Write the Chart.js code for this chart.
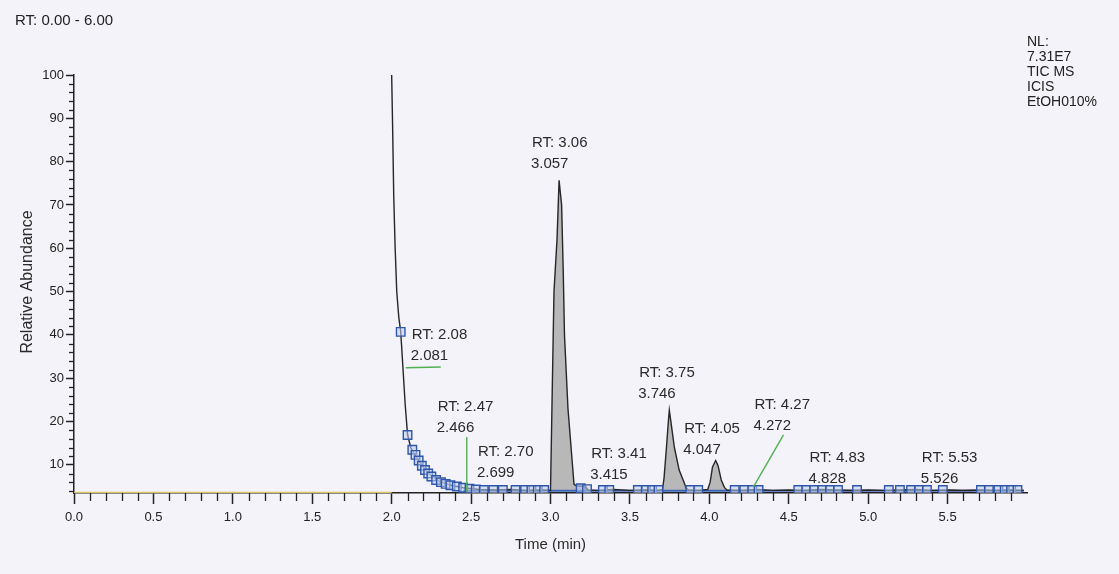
<!DOCTYPE html>
<html><head><meta charset="utf-8">
<script src="https://cdn.jsdelivr.net/npm/chart.js@4.4.1/dist/chart.umd.min.js"></script>
<style>
html,body{margin:0;padding:0;background:#f3f3f9;}
#wrap{position:relative;width:1119px;height:574px;overflow:hidden;background:#f3f3f9;}
canvas{position:absolute;left:0;top:0;}
.t{position:absolute;font-family:"Liberation Sans",Arial,sans-serif;color:#222;white-space:nowrap;}
</style></head><body>
<div id="wrap">
<canvas id="c" width="1119" height="574"></canvas>
<div class="t" style="left:15px;top:11px;font-size:15px;">RT: 0.00 - 6.00</div>
<div class="t" style="left:1027px;top:34px;font-size:14px;line-height:15px;">NL:<br>7.31E7<br>TIC MS<br>ICIS<br>EtOH010%</div>
</div>
<script>
// ---- data ----
const traceTime = [2.000,2.006,2.013,2.022,2.032,2.045,2.057,2.070,2.085,2.100,2.120,2.150,2.180,2.210,2.250,2.300,2.370,2.450,2.550,2.650,2.750,2.850,2.950,3.000,3.009,3.022,3.041,3.054,3.070,3.080,3.088,3.110,3.136,3.148,3.160,3.220,3.235,3.300,3.400,3.500,3.600,3.680,3.705,3.715,3.730,3.742,3.748,3.758,3.780,3.810,3.835,3.855,3.870,3.930,3.990,4.005,4.020,4.040,4.055,4.075,4.095,4.110,4.200,4.300,4.400,4.500,4.600,4.700,4.800,4.900,5.000,5.100,5.200,5.300,5.400,5.500,5.600,5.700,5.800,5.900,5.980];
const traceAbund = [100,88,72,60,50,44,40.7,33,24,17,14,12,10.5,9,7.5,6.2,5.3,4.7,4.3,4.2,4.3,4.1,4.2,4.1,23,50,62,75.7,70,55,40,23,11,5.5,5.2,5.0,4.2,4.1,4.3,4.1,4.2,4.1,4.3,7,14,20,22.6,20,14,8.8,6.5,4.6,4.2,4.1,4.3,6,9.5,11,9.8,6.5,4.8,4.2,4.1,4.3,4.1,4.2,4.1,4.3,4.2,4.1,4.2,4.1,4.2,4.3,4.1,4.2,4.1,4.2,4.1,4.2,4.1];
const peakRanges = [[2.99,3.24],[3.70,3.88],[3.98,4.12]];
const markerTime = [2.057,2.100,2.130,2.150,2.170,2.190,2.210,2.230,2.250,2.280,2.310,2.340,2.370,2.410,2.450,2.490,2.530,2.580,2.640,2.700,2.780,2.840,2.880,2.920,2.960,3.190,3.230,3.330,3.370,3.550,3.600,3.640,3.680,3.880,3.930,4.160,4.220,4.270,4.310,4.560,4.610,4.660,4.710,4.760,4.810,4.930,5.130,5.200,5.270,5.320,5.370,5.470,5.710,5.760,5.820,5.860,5.900,5.940];
const markerAbund = [40.7,16.9,13.5,12.3,11,9.8,8.8,8,7.3,6.5,6,5.6,5.3,5,4.7,4.5,4.3,4.2,4.2,4.2,4.2,4.2,4.2,4.2,4.2,4.6,4.4,4.2,4.2,4.2,4.2,4.2,4.2,4.2,4.2,4.2,4.2,4.2,4.2,4.2,4.2,4.2,4.2,4.2,4.2,4.2,4.2,4.2,4.2,4.2,4.2,4.2,4.2,4.2,4.2,4.2,4.2,4.2];
const baseTime = [2.45,5.98];
const baseAbund = [4.0,4.0];
const redTime = [4.82,4.97,4.975,5.48,5.66];
const redAbund = [4.0,4.0,null,4.0,4.0];
const delayTime = [0,2.0];
const delayAbund = [3.6,3.6];
const labelRT = ['RT: 3.06','RT: 2.08','RT: 2.47','RT: 2.70','RT: 3.41','RT: 3.75','RT: 4.05','RT: 4.27','RT: 4.83','RT: 5.53'];
const labelApex = ['3.057','2.081','2.466','2.699','3.415','3.746','4.047','4.272','4.828','5.526'];
const labelTime = [2.883,2.126,2.290,2.543,3.256,3.558,3.842,4.284,4.631,5.338];
const labelAbund = [84.3,40.0,23.4,13.0,12.5,31.2,18.3,23.8,11.6,11.6];
const leaderT1 = [2.088,2.473,4.467];
const leaderV1 = [32.4,16.4,16.9];
const leaderT2 = [2.309,2.473,4.278];
const leaderV2 = [32.6,3.8,4.9];
const xTickValues = [0,0.5,1.0,1.5,2.0,2.5,3.0,3.5,4.0,4.5,5.0,5.5];
const yTickValues = [10,20,30,40,50,60,70,80,90,100];

// ---- build ----
const pts = (t,v)=>t.map((x,i)=>({x:x,y:v[i]}));
const trace = pts(traceTime,traceAbund);
const FONT = '"Liberation Sans", Arial, sans-serif';
const datasets = [
  {data:trace,borderColor:'#262626',borderWidth:1.4,pointRadius:0,fill:false,order:1,tension:0},
  {data:pts(markerTime,markerAbund),showLine:false,pointStyle:'rect',pointRadius:6,pointBorderColor:'#2f56a8',pointBackgroundColor:'rgba(190,205,238,0.55)',pointBorderWidth:1.4,order:0},
  {data:pts(baseTime,baseAbund),borderColor:'#3a62b8',borderWidth:2,pointRadius:0,order:2},
  {data:pts(redTime,redAbund),borderColor:'#d47a7a',borderWidth:2,pointRadius:0,spanGaps:false,order:2},
  {data:pts(delayTime,delayAbund),borderColor:'#d9c36a',borderWidth:1.5,pointRadius:0,order:3}
];
peakRanges.forEach(r=>{
  datasets.push({data:trace.filter(p=>p.x>=r[0]&&p.x<=r[1]),borderWidth:0,pointRadius:0,backgroundColor:'#b8b8b8',fill:{value:3.9},order:5});
});

const deco = {
  id:'deco',
  afterDraw(chart){
    const {ctx, scales:{x,y}, chartArea:a} = chart;
    ctx.save();
    ctx.strokeStyle='#222'; ctx.lineWidth=1.3;
    for (let v=4; v<100; v+=2){ if (v%10===0) continue; const py=Math.round(y.getPixelForValue(v))+0.5; ctx.beginPath(); ctx.moveTo(a.left-5,py); ctx.lineTo(a.left,py); ctx.stroke(); }
    for (let i=1;i<60;i++){ if(i%5===0) continue; const px=Math.round(x.getPixelForValue(i/10))+0.5; ctx.beginPath(); ctx.moveTo(px,a.bottom); ctx.lineTo(px,a.bottom+8); ctx.stroke(); }
    // leader lines
    ctx.strokeStyle='#52b052'; ctx.lineWidth=1.4;
    leaderT1.forEach((t,i)=>{ctx.beginPath();ctx.moveTo(x.getPixelForValue(t),y.getPixelForValue(leaderV1[i]));ctx.lineTo(x.getPixelForValue(leaderT2[i]),y.getPixelForValue(leaderV2[i]));ctx.stroke();});
    // peak labels
    ctx.font='15px '+FONT; ctx.fillStyle='#2a2a2a'; ctx.textBaseline='middle'; ctx.textAlign='left';
    labelRT.forEach((s,i)=>{const px=x.getPixelForValue(labelTime[i]);const py=y.getPixelForValue(labelAbund[i]);ctx.fillText(s,px,py);ctx.fillText(labelApex[i],px-1,py+21);});
    // axis titles
    ctx.font='15px '+FONT; ctx.textAlign='center';
    ctx.fillText('Time (min)',(a.left+a.right)/2,545);
    ctx.save(); ctx.translate(28,282); ctx.rotate(-Math.PI/2); ctx.font='16px '+FONT; ctx.fillText('Relative Abundance',0,0); ctx.restore();
    ctx.restore();
  }
};

new Chart(document.getElementById('c'),{
  type:'line',
  data:{datasets:datasets},
  options:{
    responsive:false,animation:false,devicePixelRatio:1,
    layout:{padding:{top:75,right:92,left:0,bottom:0}},
    plugins:{legend:{display:false},tooltip:{enabled:false}},
    scales:{
      x:{type:'linear',min:0,max:6,
        afterBuildTicks:s=>{s.ticks=xTickValues.map(v=>({value:v}));},
        afterFit:s=>{s.height=81;},
        ticks:{callback:v=>Number(v).toFixed(1),font:{family:FONT,size:13},color:'#222',padding:6,maxRotation:0,autoSkip:false},
        grid:{drawOnChartArea:false,drawTicks:true,tickLength:11,tickColor:'#222',tickWidth:1.5},
        border:{color:'#222',width:1.5}},
      y:{type:'linear',min:3.5,max:100,
        afterBuildTicks:s=>{s.ticks=yTickValues.map(v=>({value:v}));},
        afterFit:s=>{s.width=74;},
        ticks:{font:{family:FONT,size:13},color:'#222',padding:2,autoSkip:false},
        grid:{drawOnChartArea:false,drawTicks:true,tickLength:8,tickColor:'#222',tickWidth:1.5},
        border:{color:'#222',width:1.5}}
    }
  },
  plugins:[deco]
});
</script>
</body></html>
